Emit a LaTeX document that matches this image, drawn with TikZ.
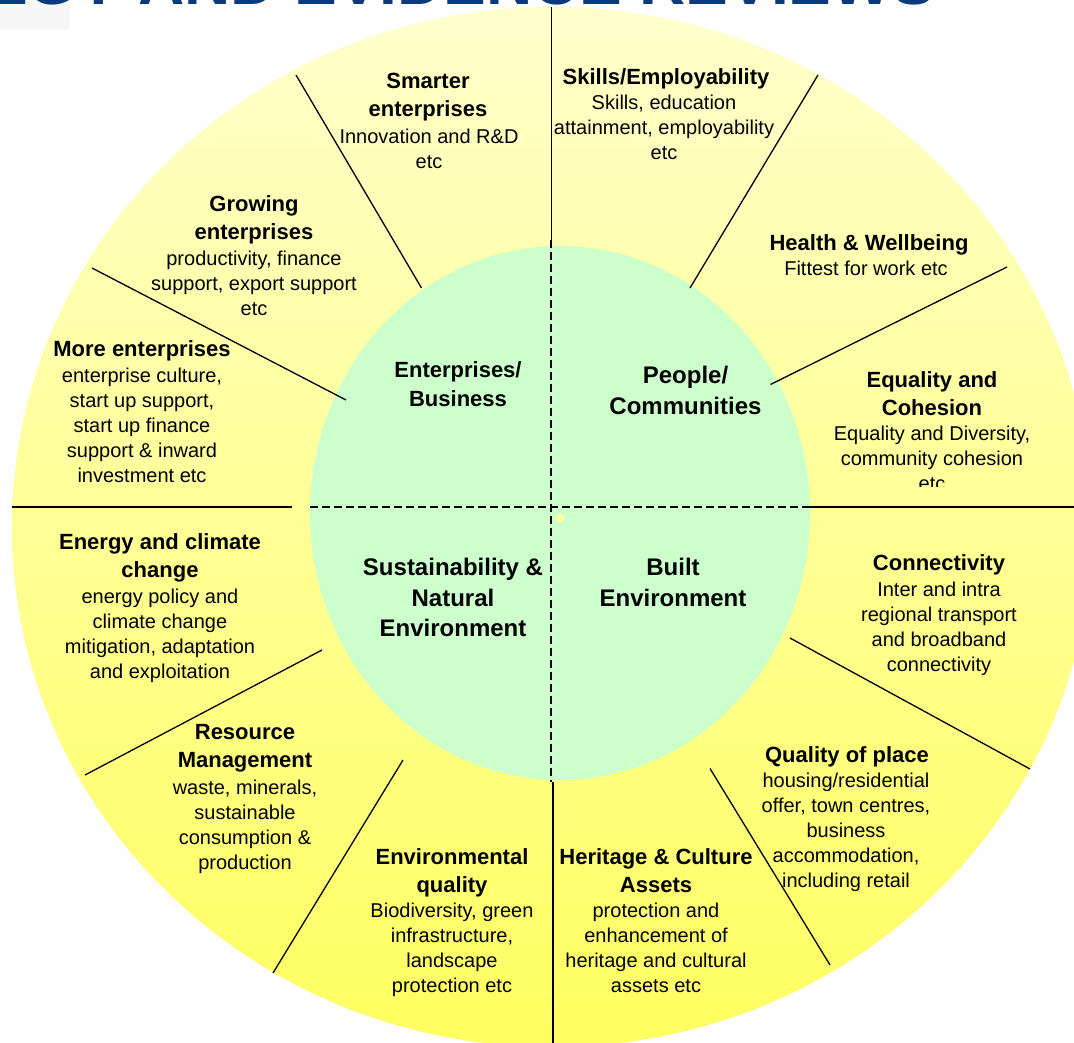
\documentclass[tikz,border=0pt]{standalone}
\usepackage{fontspec}
\setmainfont{Liberation Sans}
\definecolor{paleyellow}{HTML}{FFFFCC}
\definecolor{midyellow}{HTML}{FFFFA6}
\definecolor{deepyellow}{HTML}{FFFF60}
\definecolor{coregreen}{HTML}{CCFFCC}
\definecolor{titleblue}{HTML}{0B3B7C}
\definecolor{dotyellow}{HTML}{FFFFA8}
\begin{document}
\begin{tikzpicture}[x=1pt,y=-1pt,
  divider/.style={line width=1.3pt, black},
  dashdiv/.style={line width=1.4pt, black, dash pattern=on 8pt off 4pt},
  head/.style={align=center, inner sep=0pt, anchor=north, font=\fontsize{22}{28}\selectfont\bfseries},
  body/.style={align=center, inner sep=0pt, anchor=north, font=\fontsize{20}{25}\selectfont},
  core/.style={align=center, inner sep=0pt, anchor=north, font=\fontsize{24}{30.5}\selectfont\bfseries}]
\useasboundingbox (0,0) rectangle (1074,1043);
\clip (0,0) rectangle (1074,1043);
% faint box and cut-off title
\fill[gray!6] (0,0) rectangle (70,30);
\node[anchor=base east, inner sep=0pt, text=titleblue, font=\fontsize{64}{64}\selectfont\bfseries] (title) at (935,5) {STRATEGY AND EVIDENCE REVIEWS};
% outer ring
\shade[top color=paleyellow, middle color=midyellow, bottom color=deepyellow] (552,527) ellipse [x radius=540, y radius=520];
% inner core
\fill[coregreen] (560,513) ellipse [x radius=250, y radius=267];
\fill[dotyellow] (560,518) circle [radius=4.5];
% coordinates of dividers
\coordinate (a1) at (296,75);   \coordinate (a2) at (421.5,288);
\coordinate (b1) at (92,268);   \coordinate (b2) at (346,400);
\coordinate (c1) at (818,75);   \coordinate (c2) at (690,288);
\coordinate (d1) at (1007,267); \coordinate (d2) at (770.5,384.5);
\coordinate (e1) at (85,775);   \coordinate (e2) at (322,650);
\coordinate (f1) at (273,973);  \coordinate (f2) at (403,760);
\coordinate (g1) at (830,965);  \coordinate (g2) at (710,768.5);
\coordinate (k1) at (1030,769); \coordinate (k2) at (790,638);
\coordinate (hl1) at (12,507);  \coordinate (hl2) at (292,507);
\coordinate (hc1) at (310,507); \coordinate (hc2) at (810,507);
\coordinate (hr2) at (1074,507);
\coordinate (vt1) at (551,7);   \coordinate (vt2) at (551,240);
\coordinate (vb1) at (553,782); \coordinate (vb2) at (553,1043);
\draw[divider] (a1) -- (a2);
\draw[divider] (b1) -- (b2);
\draw[divider] (c1) -- (c2);
\draw[divider] (d1) -- (d2);
\draw[divider] (e1) -- (e2);
\draw[divider] (f1) -- (f2);
\draw[divider] (g1) -- (g2);
\draw[divider] (k1) -- (k2);
\draw[divider] (hl1) -- (hl2);
\draw[divider] (hc2) -- (hr2);
\draw[divider, line width=1pt] (vt1) -- (vt2);
\draw[divider] (vb1) -- (vb2);
\draw[dashdiv] (hc1) -- (hc2);
\draw[dashdiv] (vt2) -- (551,782);
% outer labels
\node[head] (h1) at (428,73) {Smarter\\enterprises};
\node[body] (t1) at (429,128.5) {Innovation and R\&D\\etc};
\node[head] (h2) at (666,68) {Skills/Employability};
\node[body] (t2) at (664,94.5) {Skills, education\\attainment, employability\\etc};
\node[head] (h3) at (869,234) {Health \& Wellbeing};
\node[body] (t3) at (866,260.5) {Fittest for work etc};
\node[head] (h4) at (932,371) {Equality and\\Cohesion};
\begin{scope}
\clip (800,415) rectangle (1074,486);
\node[body] (t4) at (932,425.5) {Equality and Diversity,\\community cohesion\\etc};
\end{scope}
\node[head] (h5) at (939,554) {Connectivity};
\node[body] (t5) at (939,581.5) {Inter and intra\\regional transport\\and broadband\\connectivity};
\node[head] (h6) at (847,746) {Quality of place};
\node[body] (t6) at (846,772.5) {housing/residential\\offer, town centres,\\business\\accommodation,\\including retail};
\node[head] (h7) at (656,848) {Heritage \& Culture\\Assets};
\node[body] (t7) at (656,902.5) {protection and\\enhancement of\\heritage and cultural\\assets etc};
\node[head] (h8) at (452,848) {Environmental\\quality};
\node[body] (t8) at (452,902.5) {Biodiversity, green\\infrastructure,\\landscape\\protection etc};
\node[head] (h9) at (245,724) {Resource\\Management};
\node[body] (t9) at (245,779.5) {waste, minerals,\\sustainable\\consumption \&\\production};
\node[head] (h10) at (160,533) {Energy and climate\\change};
\node[body] (t10) at (160,588.5) {energy policy and\\climate change\\mitigation, adaptation\\and exploitation};
\node[head] (h11) at (142,340) {More enterprises};
\node[body] (t11) at (142,367.5) {enterprise culture,\\start up support,\\start up finance\\support \& inward\\investment etc};
\node[head] (h12) at (254,195) {Growing\\enterprises};
\node[body] (t12) at (254,250.5) {productivity, finance\\support, export support\\etc};
% core labels
\node[core, font=\fontsize{22}{29}\selectfont\bfseries] (q1) at (458,361) {Enterprises/\\Business};
\node[core, font=\fontsize{24}{31}\selectfont\bfseries] (q2) at (685.5,366) {People/\\Communities};
\node[core] (q3) at (453,558) {Sustainability \&\\Natural\\Environment};
\node[core] (q4) at (673,558) {Built\\Environment};
\end{tikzpicture}
\end{document}
